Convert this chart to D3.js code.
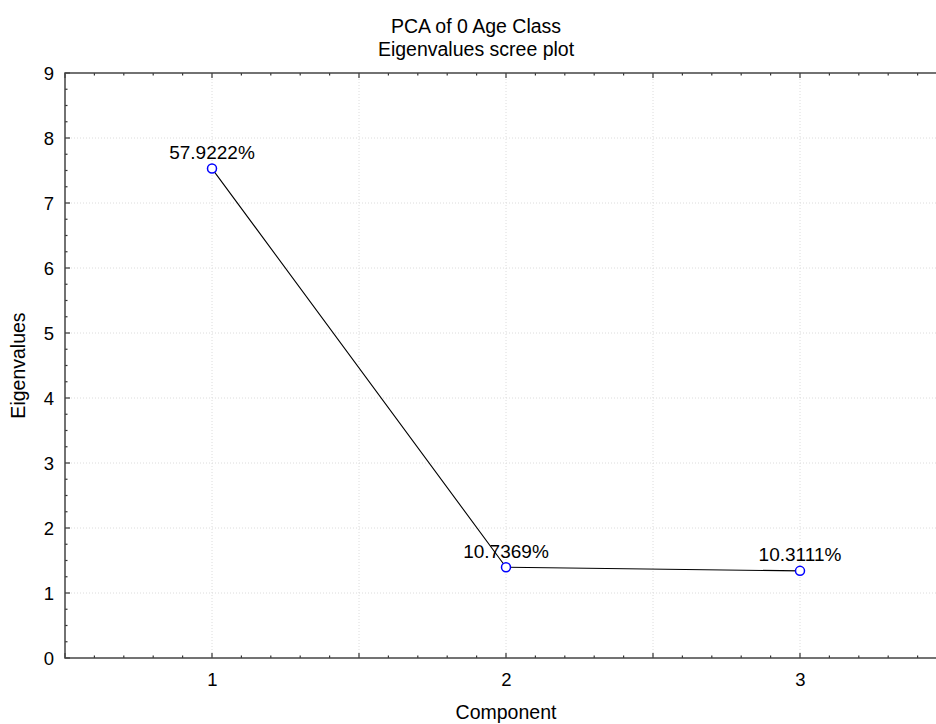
<!DOCTYPE html>
<html>
<head>
<meta charset="utf-8">
<script src="https://cdn.jsdelivr.net/npm/d3@7"></script>
<style>
  body { margin: 0; background: #fff; }
  svg { display: block; overflow: hidden; }
  text { font-family: "Liberation Sans", Arial, sans-serif; fill: #000; }
</style>
</head>
<body>
<div class="screeplot"></div>
<script>
var svgWidth = 936;
var svgHeight = 724;

// data (13 variables, so eigenvalue = pct * 13 / 100)
var components = [1, 2, 3];
var eigenvalues = [7.5299, 1.3958, 1.3404];
var pctLabels = ["57.9222%", "10.7369%", "10.3111%"];
var xTickLabels = [1, 2, 3];
var yTickLabels = [0, 1, 2, 3, 4, 5, 6, 7, 8, 9];

// plot frame (right edge runs past the window, like the reference)
var plot = { left: 65, right: 947, top: 73, bottom: 658 };

var svg = d3.select(".screeplot")
  .append("svg")
  .attr("width", svgWidth)
  .attr("height", svgHeight);

var xScale = d3.scaleLinear()
  .domain([0.5, 3.5])
  .range([plot.left, plot.right]);

var yScale = d3.scaleLinear()
  .domain([0, 9])
  .range([plot.bottom, plot.top]);

// grid lines, dotted
var xGrid = d3.range(1, 3.01, 0.5);
var yGrid = d3.range(1, 9, 1);

svg.append("g").selectAll("line")
  .data(xGrid)
  .enter()
  .append("line")
  .attr("x1", d => xScale(d))
  .attr("x2", d => xScale(d))
  .attr("y1", plot.top)
  .attr("y2", plot.bottom)
  .attr("stroke", "#dcdcdc")
  .attr("stroke-width", 1)
  .attr("stroke-dasharray", "1,2");

svg.append("g").selectAll("line")
  .data(yGrid)
  .enter()
  .append("line")
  .attr("x1", plot.left)
  .attr("x2", plot.right)
  .attr("y1", d => yScale(d))
  .attr("y2", d => yScale(d))
  .attr("stroke", "#dcdcdc")
  .attr("stroke-width", 1)
  .attr("stroke-dasharray", "1,2");

// axes: labels from d3, tick marks drawn below (inward)
var bottomAxis = d3.axisBottom(xScale)
  .tickValues(xTickLabels)
  .tickSize(0)
  .tickPadding(15)
  .tickFormat(d3.format("d"));

var leftAxis = d3.axisLeft(yScale)
  .tickValues(yTickLabels)
  .tickSize(0)
  .tickPadding(11)
  .tickFormat(d3.format("d"));

var xAxis = svg.append("g")
  .attr("transform", `translate(0, ${plot.bottom})`)
  .call(bottomAxis);

var yAxis = svg.append("g")
  .attr("transform", `translate(${plot.left}, 0)`)
  .call(leftAxis);

[xAxis, yAxis].forEach(function(ax) {
  ax.select(".domain").remove();
  ax.selectAll("text")
    .attr("font-size", 18.5)
    .attr("font-family", "Liberation Sans, Arial, sans-serif");
});
yAxis.selectAll("text").attr("dy", "0.36em");

// tick marks: minor every 0.1 on x, every 0.25 on y; major every 0.5 on x, 1 on y
var tickColor = "#333";
var xMinor = d3.range(0.5, 3.51, 0.1);
var yMinor = d3.range(0, 9.01, 0.25);

function isMajorX(d) { return Math.abs(d * 2 - Math.round(d * 2)) < 1e-6; }
function isMajorY(d) { return Math.abs(d - Math.round(d)) < 1e-6; }

var ticks = svg.append("g").attr("stroke", tickColor).attr("stroke-width", 1.2);

ticks.selectAll(".xb")
  .data(xMinor)
  .enter()
  .append("line")
  .attr("x1", d => xScale(d))
  .attr("x2", d => xScale(d))
  .attr("y1", plot.bottom)
  .attr("y2", d => plot.bottom - (isMajorX(d) ? 5 : 2.5));

ticks.selectAll(".xt")
  .data(xMinor)
  .enter()
  .append("line")
  .attr("x1", d => xScale(d))
  .attr("x2", d => xScale(d))
  .attr("y1", plot.top)
  .attr("y2", d => plot.top + (isMajorX(d) ? 5 : 2.5));

ticks.selectAll(".yl")
  .data(yMinor)
  .enter()
  .append("line")
  .attr("x1", plot.left)
  .attr("x2", d => plot.left + (isMajorY(d) ? 5 : 2.5))
  .attr("y1", d => yScale(d))
  .attr("y2", d => yScale(d));

// frame
svg.append("rect")
  .attr("x", plot.left)
  .attr("y", plot.top)
  .attr("width", plot.right - plot.left)
  .attr("height", plot.bottom - plot.top)
  .attr("fill", "none")
  .attr("stroke", "#444")
  .attr("stroke-width", 1.5);

// scree line
var points = components.map(function(c, i) {
  return { comp: c, val: eigenvalues[i], label: pctLabels[i] };
});

var line = d3.line()
  .x(d => xScale(d.comp))
  .y(d => yScale(d.val));

svg.append("path")
  .datum(points)
  .attr("d", line)
  .attr("fill", "none")
  .attr("stroke", "#000")
  .attr("stroke-width", 1.1);

svg.append("g").selectAll("circle")
  .data(points)
  .enter()
  .append("circle")
  .attr("cx", d => xScale(d.comp))
  .attr("cy", d => yScale(d.val))
  .attr("r", 4.5)
  .attr("fill", "#fff")
  .attr("stroke", "#0000ff")
  .attr("stroke-width", 1.5);

// percentage labels
svg.append("g").selectAll("text")
  .data(points)
  .enter()
  .append("text")
  .attr("x", d => xScale(d.comp))
  .attr("y", d => yScale(d.val) - 9.5)
  .attr("text-anchor", "middle")
  .attr("font-size", 19)
  .text(d => d.label);

// titles
svg.append("text")
  .attr("x", 476)
  .attr("y", 33)
  .attr("text-anchor", "middle")
  .attr("font-size", 19.5)
  .text("PCA of 0 Age Class");

svg.append("text")
  .attr("x", 476)
  .attr("y", 56)
  .attr("text-anchor", "middle")
  .attr("font-size", 19.5)
  .text("Eigenvalues scree plot");

// axis labels
svg.append("text")
  .attr("x", (plot.left + plot.right) / 2)
  .attr("y", 719)
  .attr("text-anchor", "middle")
  .attr("font-size", 19.5)
  .text("Component");

svg.append("text")
  .attr("transform", `translate(25, ${(plot.top + plot.bottom) / 2}) rotate(-90)`)
  .attr("text-anchor", "middle")
  .attr("font-size", 19.5)
  .text("Eigenvalues");
</script>
</body>
</html>
